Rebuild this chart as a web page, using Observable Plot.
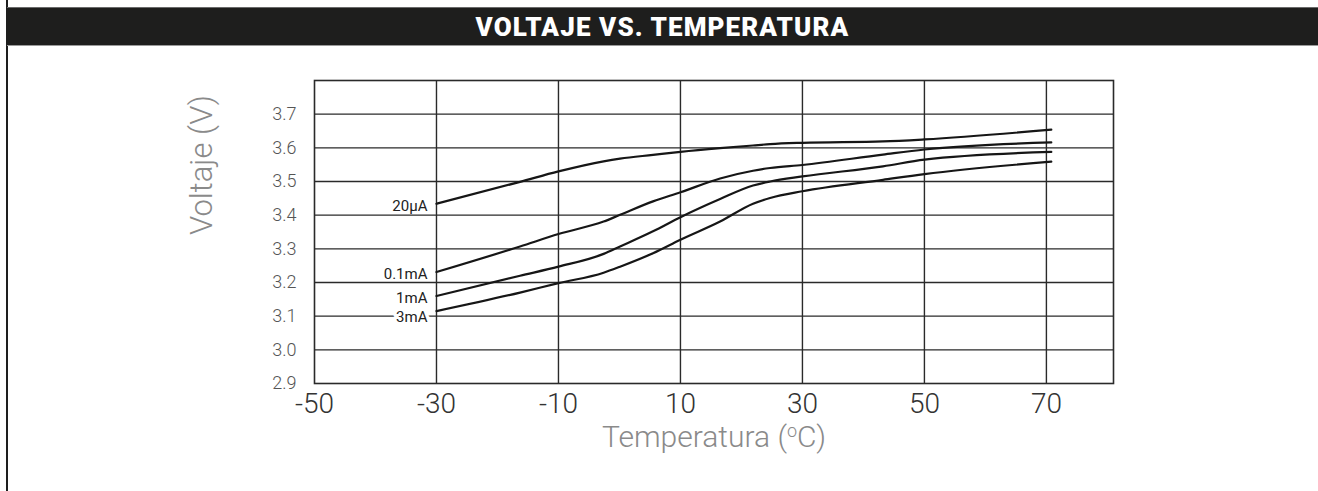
<!DOCTYPE html>
<html>
<head>
<meta charset="utf-8">
<script src="https://cdn.jsdelivr.net/npm/d3@7"></script>
<script src="https://cdn.jsdelivr.net/npm/@observablehq/plot@0.6"></script>
<style>
  html, body { margin: 0; padding: 0; background: #fff; }
  #wrap { position: relative; width: 1318px; height: 491px; overflow: hidden; }
  #chart { position: absolute; left: 0; top: 0; }
  #border { position: absolute; left: 6px; top: 0; width: 2px; height: 491px; background: #1e1e1e; }
  #title { position: absolute; left: 7px; top: 7px; right: 0; height: 37px; background: #1e1e1d;
           border-top: 1px solid #6a6a6a; border-bottom: 1px solid #9a9a9a;
           color: #fff; text-align: center; line-height: 38px;
           font-family: "Roboto", "DejaVu Sans", sans-serif;
           font-weight: 900; font-size: 26px; letter-spacing: 1.1px; }
</style>
</head>
<body>
<div id="wrap">
  <div id="chart"></div>
  <div id="border"></div>
  <div id="title">VOLTAJE VS. TEMPERATURA</div>
</div>
<script>
const title = "VOLTAJE VS. TEMPERATURA";
const xTitle = "Temperatura (ºC)";
const yTitle = "Voltaje (V)";
const seriesNames = ["20μA", "0.1mA", "1mA", "3mA"];
const temps = [-30, -16.3, -10, -2.6, 0.1, 5.5, 10, 16.5, 21.9, 24.7, 30, 43.2, 50, 70.8];
const v20uA  = [3.434, 3.499, 3.530, 3.560, 3.568, 3.579, 3.588, 3.599, 3.607, 3.611, 3.615, 3.619, 3.625, 3.654];
const v01mA  = [3.231, 3.307, 3.344, 3.381, 3.401, 3.441, 3.468, 3.509, 3.532, 3.540, 3.549, 3.580, 3.595, 3.616];
const v1mA   = [3.160, 3.220, 3.247, 3.285, 3.307, 3.352, 3.394, 3.448, 3.488, 3.500, 3.515, 3.545, 3.565, 3.588];
const v3mA   = [3.115, 3.170, 3.198, 3.229, 3.247, 3.287, 3.327, 3.381, 3.434, 3.451, 3.471, 3.505, 3.522, 3.559];
const xTicks = [-50, -30, -10, 10, 30, 50, 70];
const yTicks = [2.9, 3.0, 3.1, 3.2, 3.3, 3.4, 3.5, 3.6, 3.7];
const xGrid = [-30, -10, 10, 30, 50, 70];
const yGrid = [3.0, 3.1, 3.2, 3.3, 3.4, 3.5, 3.6, 3.7];

const allValues = [v20uA, v01mA, v1mA, v3mA];
const data = [];
seriesNames.forEach((s, i) => temps.forEach((t, j) => data.push({series: s, t, v: allValues[i][j]})));
const starts = seriesNames.map((s, i) => ({series: s, t: temps[0], v: allValues[i][0]}));

const font = "'Source Sans Pro', 'Roboto', 'Noto Sans', sans-serif";

const chart = Plot.plot({
  width: 1318,
  height: 491,
  marginLeft: 314,
  marginRight: 205,
  marginTop: 80,
  marginBottom: 108,
  style: {fontFamily: font, background: "transparent", overflow: "visible"},
  x: {domain: [-50, 81]},
  y: {domain: [2.9, 3.8]},
  marks: [
    Plot.gridX(xGrid, {stroke: "#2a2a2a", strokeOpacity: 1, strokeWidth: 1.4}),
    Plot.gridY(yGrid, {stroke: "#2a2a2a", strokeOpacity: 1, strokeWidth: 1.4}),
    Plot.frame({stroke: "#2a2a2a", strokeWidth: 1.6}),
    Plot.axisX({ticks: xTicks, tickSize: 0, tickPadding: 10, fontSize: 28, fontWeight: 300, fill: "#333", label: null, tickFormat: d => String(d)}),
    Plot.axisY({ticks: yTicks, tickSize: 0, tickPadding: 18, fontSize: 18, fontWeight: 300, fill: "#555", label: null, tickFormat: d3.format(".1f")}),
    Plot.line(data, {x: "t", y: "v", z: "series", curve: "monotone-x", stroke: "#161616", strokeWidth: 2.2}),
    Plot.text(starts.filter(d => d.series !== "3mA"), {x: "t", y: "v", text: "series", textAnchor: "end", dx: -9, dy: 2, fontSize: 15, fill: "#222"}),
    Plot.text(starts.filter(d => d.series === "3mA"), {x: "t", y: "v", text: "series", textAnchor: "end", dx: -9, dy: 6, fontSize: 15, fill: "#222", stroke: "white", strokeWidth: 7}),
    Plot.text([xTitle], {frameAnchor: "bottom", dy: 63, fontSize: 30, fontWeight: 300, fill: "#8a8a8a"}),
    Plot.text([yTitle], {frameAnchor: "left", dx: -112, dy: 3, rotate: -90, fontSize: 31, fontWeight: 300, fill: "#8a8a8a"})
  ]
});
document.getElementById("chart").appendChild(chart);
d3.select(chart).selectAll("text").filter(function () { return this.textContent === xTitle; })
  .each(function () {
    const el = d3.select(this);
    el.text(null);
    el.append("tspan").text("Temperatura (");
    el.append("tspan").attr("font-size", 18).attr("dy", -10).text("o");
    el.append("tspan").attr("dy", 10).text("C)");
  });
</script>
</body>
</html>
